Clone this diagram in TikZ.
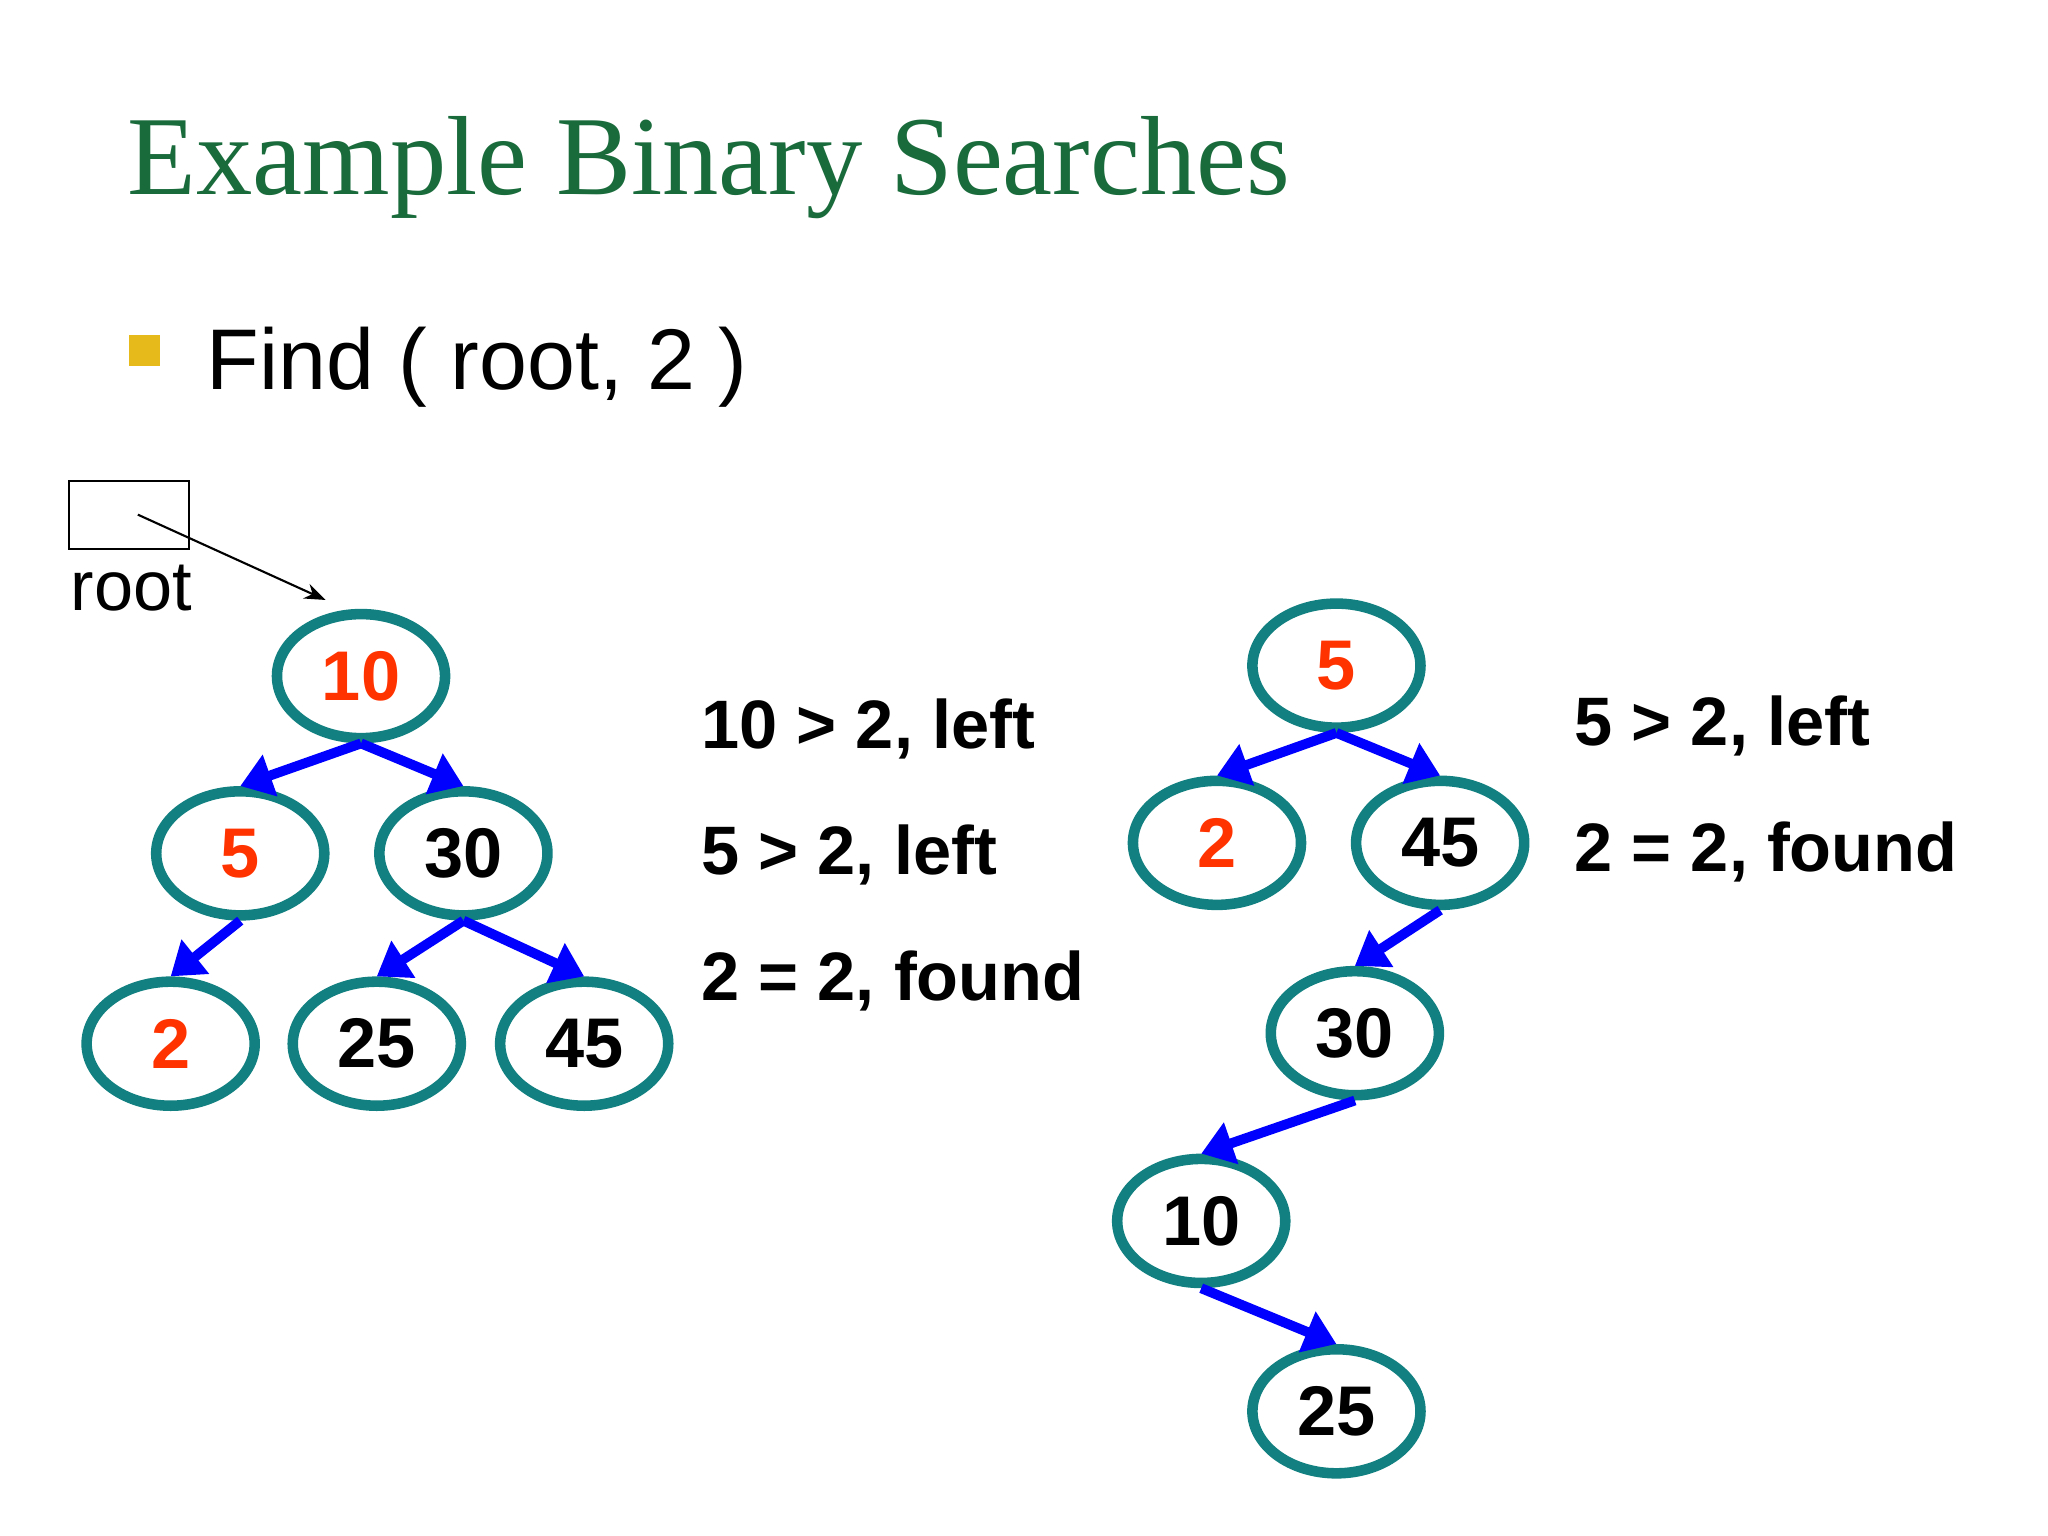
\documentclass[tikz,border=0pt]{standalone}
\usepackage{fontspec}
\setmainfont{Liberation Sans}
\newfontfamily\titlefont{Liberation Serif}
\usetikzlibrary{shapes.geometric,arrows.meta}
\definecolor{teal1}{HTML}{128080}
\definecolor{redn}{HTML}{FF3300}
\definecolor{titleg}{HTML}{1A6B3C}
\begin{document}
\begin{tikzpicture}[x=0.013128cm,y=-0.013128cm,
  tn/.style={ellipse,draw=teal1,line width=3pt,minimum width=1.68cm,minimum height=1.24cm,inner sep=0pt,font=\fontsize{20}{20}\selectfont\bfseries},
  hot/.style={text=redn},
  edge/.style={draw=blue,line width=2.8pt,-{Triangle[length=9pt,width=12pt]}},
  lbl/.style={anchor=base west,font=\fontsize{19.5}{20}\selectfont\bfseries}]
\useasboundingbox (0,0) rectangle (1560,1170);
\fill[white] (0,0) rectangle (1560,1170);
\node[anchor=base west,text=titleg,font=\titlefont\fontsize{32}{32}\selectfont] (title) at (88,148) {Example Binary Searches};
\fill[yellow!60!orange!90!black] (98,255) rectangle (122,279);
\node[anchor=base west,font=\fontsize{24.5}{25}\selectfont] (find) at (148,297) {Find ( root, 2 )};
% root pointer
\node[draw,line width=0.6pt,minimum width=1.2cm,minimum height=0.68cm,inner sep=0pt] (rootbox) at (98,392) {};
\node[font=\fontsize{20}{20}\selectfont] (rootlbl) at (100,448) {root};
\coordinate (rp) at (105,392);
\coordinate (rt) at (248,457);
% left tree
\node[tn,hot] (a10) at (275,515) {10};
\node[tn,hot] (a5) at (183,650) {5};
\node[tn] (a30) at (353,650) {30};
\node[tn,hot] (a2) at (130,795) {2};
\node[tn] (a25) at (287,795) {25};
\node[tn] (a45) at (445,795) {45};
\draw[line width=0.6pt,-{Stealth[length=6pt]}] (rp) -- (rt);
\draw[edge] (a10.south) -- (a5.north);
\draw[edge] (a10.south) -- (a30.north);
\draw[edge] (a5.south) -- (a2.north);
\draw[edge] (a30.south) -- (a25.north);
\draw[edge] (a30.south) -- (a45.north);
\node[lbl] (t1) at (525,570) {10 > 2, left};
\node[lbl] (t2) at (525,666) {5 > 2, left};
\node[lbl] (t3) at (525,762) {2 = 2, found};
% right tree
\node[tn,hot] (b5) at (1018,507) {5};
\node[tn,hot] (b2) at (927,642) {2};
\node[tn] (b45) at (1097,642) {45};
\node[tn] (b30) at (1032,787) {30};
\node[tn] (b10) at (915,930) {10};
\node[tn] (b25) at (1018,1075) {25};
\draw[edge] (b5.south) -- (b2.north);
\draw[edge] (b5.south) -- (b45.north);
\draw[edge] (b45.south) -- (b30.north);
\draw[edge] (b30.south) -- (b10.north);
\draw[edge] (b10.south) -- (b25.north);
\node[lbl] (u1) at (1190,568) {5 > 2, left};
\node[lbl] (u2) at (1190,664) {2 = 2, found};
\end{tikzpicture}
\end{document}
